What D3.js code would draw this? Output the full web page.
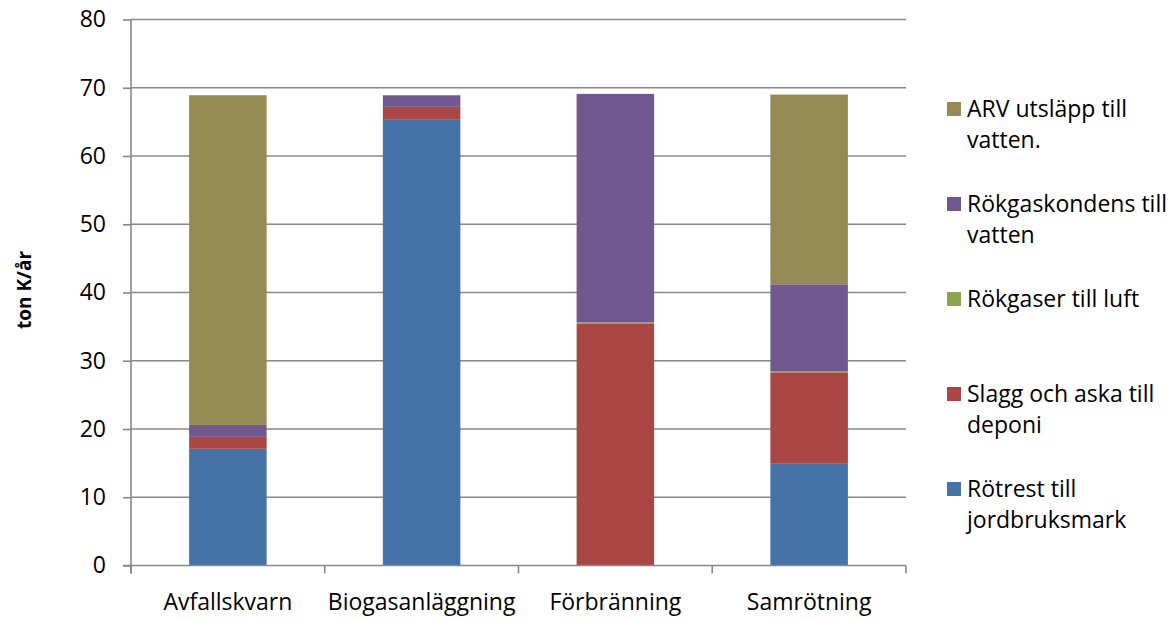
<!DOCTYPE html>
<html>
<head>
<meta charset="utf-8">
<script src="https://cdn.jsdelivr.net/npm/d3@7"></script>
<style>
  html, body { margin: 0; padding: 0; background: #fff; }
  svg { display: block; font-family: "Open Sans", sans-serif; }
</style>
</head>
<body>
<svg id="chart" width="1174" height="619"></svg>
<script>
// Kalium (ton K/år) per behandlingsalternativ och flöde
const categories = ["Avfallskvarn", "Biogasanläggning", "Förbränning", "Samrötning"];
const rotrest   = [17.1, 65.4, 0,    14.9];
const slagg     = [1.75, 1.8,  35.4, 13.4];
const rokgaser  = [0,    0,    0.2,  0.2];
const kondens   = [1.75, 1.7,  33.5, 12.7];
const arv       = [48.3, 0,    0,    27.8];
const yTicks = [0, 10, 20, 30, 40, 50, 60, 70, 80];

const series = [
  { key: "rotrest",  label: ["Rötrest till", "jordbruksmark"],      values: rotrest,  color: "#4572A7" },
  { key: "slagg",    label: ["Slagg och aska till", "deponi"],      values: slagg,    color: "#AA4643" },
  { key: "rokgaser", label: ["Rökgaser till luft"],                  values: rokgaser, color: "#89A54E" },
  { key: "kondens",  label: ["Rökgaskondens till", "vatten"],       values: kondens,  color: "#71588F" },
  { key: "arv",      label: ["ARV utsläpp till", "vatten."],        values: arv,      color: "#948A54" }
];

const FONT = "'Open Sans', sans-serif";
const FS = 23;

const svg = d3.select("#chart");
const plotLeft = 131, plotRight = 906, plotTop = 19.5, plotBottom = 565.5;

const x = d3.scaleBand().domain(categories).range([plotLeft, plotRight]).padding(0);
const y = d3.scaleLinear().domain([0, 80]).range([plotBottom, plotTop]);

// Gridlines
svg.append("g").selectAll("line").data(yTicks.filter(d => d > 0)).join("line")
  .attr("x1", plotLeft).attr("x2", plotRight)
  .attr("y1", d => y(d)).attr("y2", d => y(d))
  .attr("stroke", "#888").attr("stroke-width", 1.6);

// Stacked bars
const rows = categories.map((c, i) => {
  const r = { cat: c };
  series.forEach(s => r[s.key] = s.values[i]);
  return r;
});
const stack = d3.stack().keys(series.map(s => s.key))(rows);
const barW = x.bandwidth() * 0.4;

svg.append("g").selectAll("g").data(stack).join("g")
  .attr("fill", (d, i) => series[i].color)
  .selectAll("rect").data(d => d.filter(p => p[1] - p[0] > 0)).join("rect")
  .attr("x", d => x(d.data.cat) + (x.bandwidth() - barW) / 2)
  .attr("width", barW)
  .attr("y", d => y(d[1]))
  .attr("height", d => y(d[0]) - y(d[1]));

// Y axis
const yAxis = d3.axisLeft(y).tickValues(yTicks).tickSize(8).tickPadding(17);
const gy = svg.append("g").attr("transform", `translate(${plotLeft},0)`).call(yAxis);
gy.attr("font-family", FONT).attr("font-size", FS);
gy.select(".domain").attr("stroke", "#888").attr("stroke-width", 1.6)
  .attr("d", `M0,${plotTop}V${plotBottom + 8}`);
gy.selectAll(".tick line").attr("stroke", "#888").attr("stroke-width", 1.6);
gy.selectAll(".tick text").attr("fill", "#000");

// X axis
const gx = svg.append("g").attr("transform", `translate(0,${plotBottom})`);
gx.append("line").attr("x1", plotLeft - 8).attr("x2", plotRight)
  .attr("stroke", "#888").attr("stroke-width", 1.6);
const bounds = categories.map(c => x(c)).concat([plotRight]);
gx.selectAll("line.tk").data(bounds).join("line").attr("class", "tk")
  .attr("x1", d => d).attr("x2", d => d).attr("y1", 0).attr("y2", 8)
  .attr("stroke", "#888").attr("stroke-width", 1.6);
gx.selectAll("text").data(categories).join("text")
  .attr("x", d => x(d) + x.bandwidth() / 2)
  .attr("y", 44)
  .attr("text-anchor", "middle")
  .attr("font-size", FS)
  .text(d => d);

// Y axis title
svg.append("text")
  .attr("transform", "translate(31,290) rotate(-90)")
  .attr("text-anchor", "middle")
  .attr("font-size", 19)
  .attr("font-weight", "bold")
  .text("ton K/år");

// Legend (top to bottom in reverse stacking order)
const legendY = [109, 204, 299, 394, 489];
const lg = svg.append("g");
series.slice().reverse().forEach((s, i) => {
  const g = lg.append("g").attr("transform", `translate(947,${legendY[i]})`);
  g.append("rect").attr("x", 0).attr("y", -7).attr("width", 14).attr("height", 14).attr("fill", s.color);
  s.label.forEach((t, j) => {
    g.append("text").attr("x", 20).attr("y", j * 31 + 8)
      .attr("font-size", FS).text(t);
  });
});
</script>
</body>
</html>
